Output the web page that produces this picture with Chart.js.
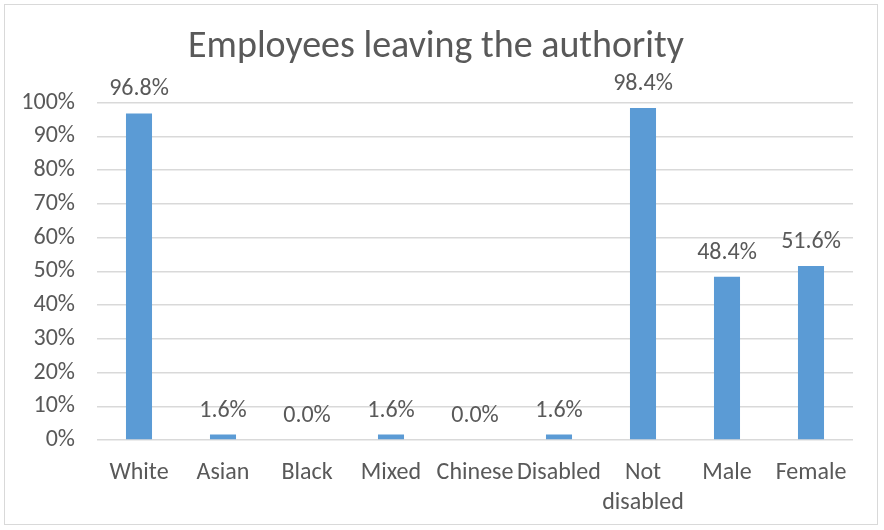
<!DOCTYPE html>
<html>
<head>
<meta charset="utf-8">
<script src="https://cdn.jsdelivr.net/npm/chart.js@4/dist/chart.umd.min.js"></script>
<style>
  html, body { margin: 0; padding: 0; background: #fff; }
  #wrap { position: absolute; left: 4px; top: 4px; width: 874px; height: 521px; border: 1px solid #d9d9d9; box-sizing: border-box; }
  canvas { display: block; }
</style>
</head>
<body>
<div id="wrap"><canvas id="chart"></canvas></div>
<script>
const categories = ['White', 'Asian', 'Black', 'Mixed', 'Chinese', 'Disabled', ['Not', 'disabled'], 'Male', 'Female'];
const values = [96.8, 1.6, 0.0, 1.6, 0.0, 1.6, 98.4, 48.4, 51.6];
const yTicks = [0, 10, 20, 30, 40, 50, 60, 70, 80, 90, 100];

const fontFamily = "Carlito, 'Open Sans', sans-serif";
const textColor = '#595959';

// draws the value above each bar
const barLabels = {
  id: 'barLabels',
  afterDatasetsDraw(chart) {
    const ctx = chart.ctx;
    const meta = chart.getDatasetMeta(0);
    ctx.save();
    ctx.font = '24px ' + fontFamily;
    ctx.fillStyle = textColor;
    ctx.textAlign = 'center';
    ctx.textBaseline = 'bottom';
    meta.data.forEach((bar, i) => {
      ctx.fillText(values[i].toFixed(1) + '%', bar.x, bar.y - 12);
    });
    ctx.restore();
  }
};

new Chart(document.getElementById('chart'), {
  type: 'bar',
  data: {
    labels: categories,
    datasets: [{
      data: values,
      backgroundColor: '#5b9bd5',
      barPercentage: 0.62,
      categoryPercentage: 0.5
    }]
  },
  options: {
    responsive: true,
    maintainAspectRatio: false,
    animation: false,
    layout: { padding: { left: 14, right: 24, top: 0, bottom: -4 } },
    plugins: {
      legend: { display: false },
      tooltip: { enabled: false },
      title: {
        display: true,
        text: 'Employees leaving the authority',
        color: textColor,
        font: { family: fontFamily, size: 38, weight: 'normal' },
        padding: { top: 20, bottom: 32 }
      }
    },
    scales: {
      x: {
        grid: { display: false },
        border: { display: false },
        ticks: {
          color: textColor,
          font: { family: fontFamily, size: 24, lineHeight: 1.25 },
          padding: 10,
          maxRotation: 0,
          autoSkip: false
        }
      },
      y: {
        min: 0,
        max: 100,
        afterBuildTicks(axis) { axis.ticks = yTicks.map(v => ({ value: v })); },
        afterFit(axis) { axis.width = 78; },
        grid: { color: '#d9d9d9', lineWidth: 1.5, drawTicks: false },
        border: { display: false },
        ticks: {
          color: textColor,
          font: { family: fontFamily, size: 24 },
          padding: 22,
          callback: v => v + '%'
        }
      }
    }
  },
  plugins: [barLabels]
});
</script>
</body>
</html>
